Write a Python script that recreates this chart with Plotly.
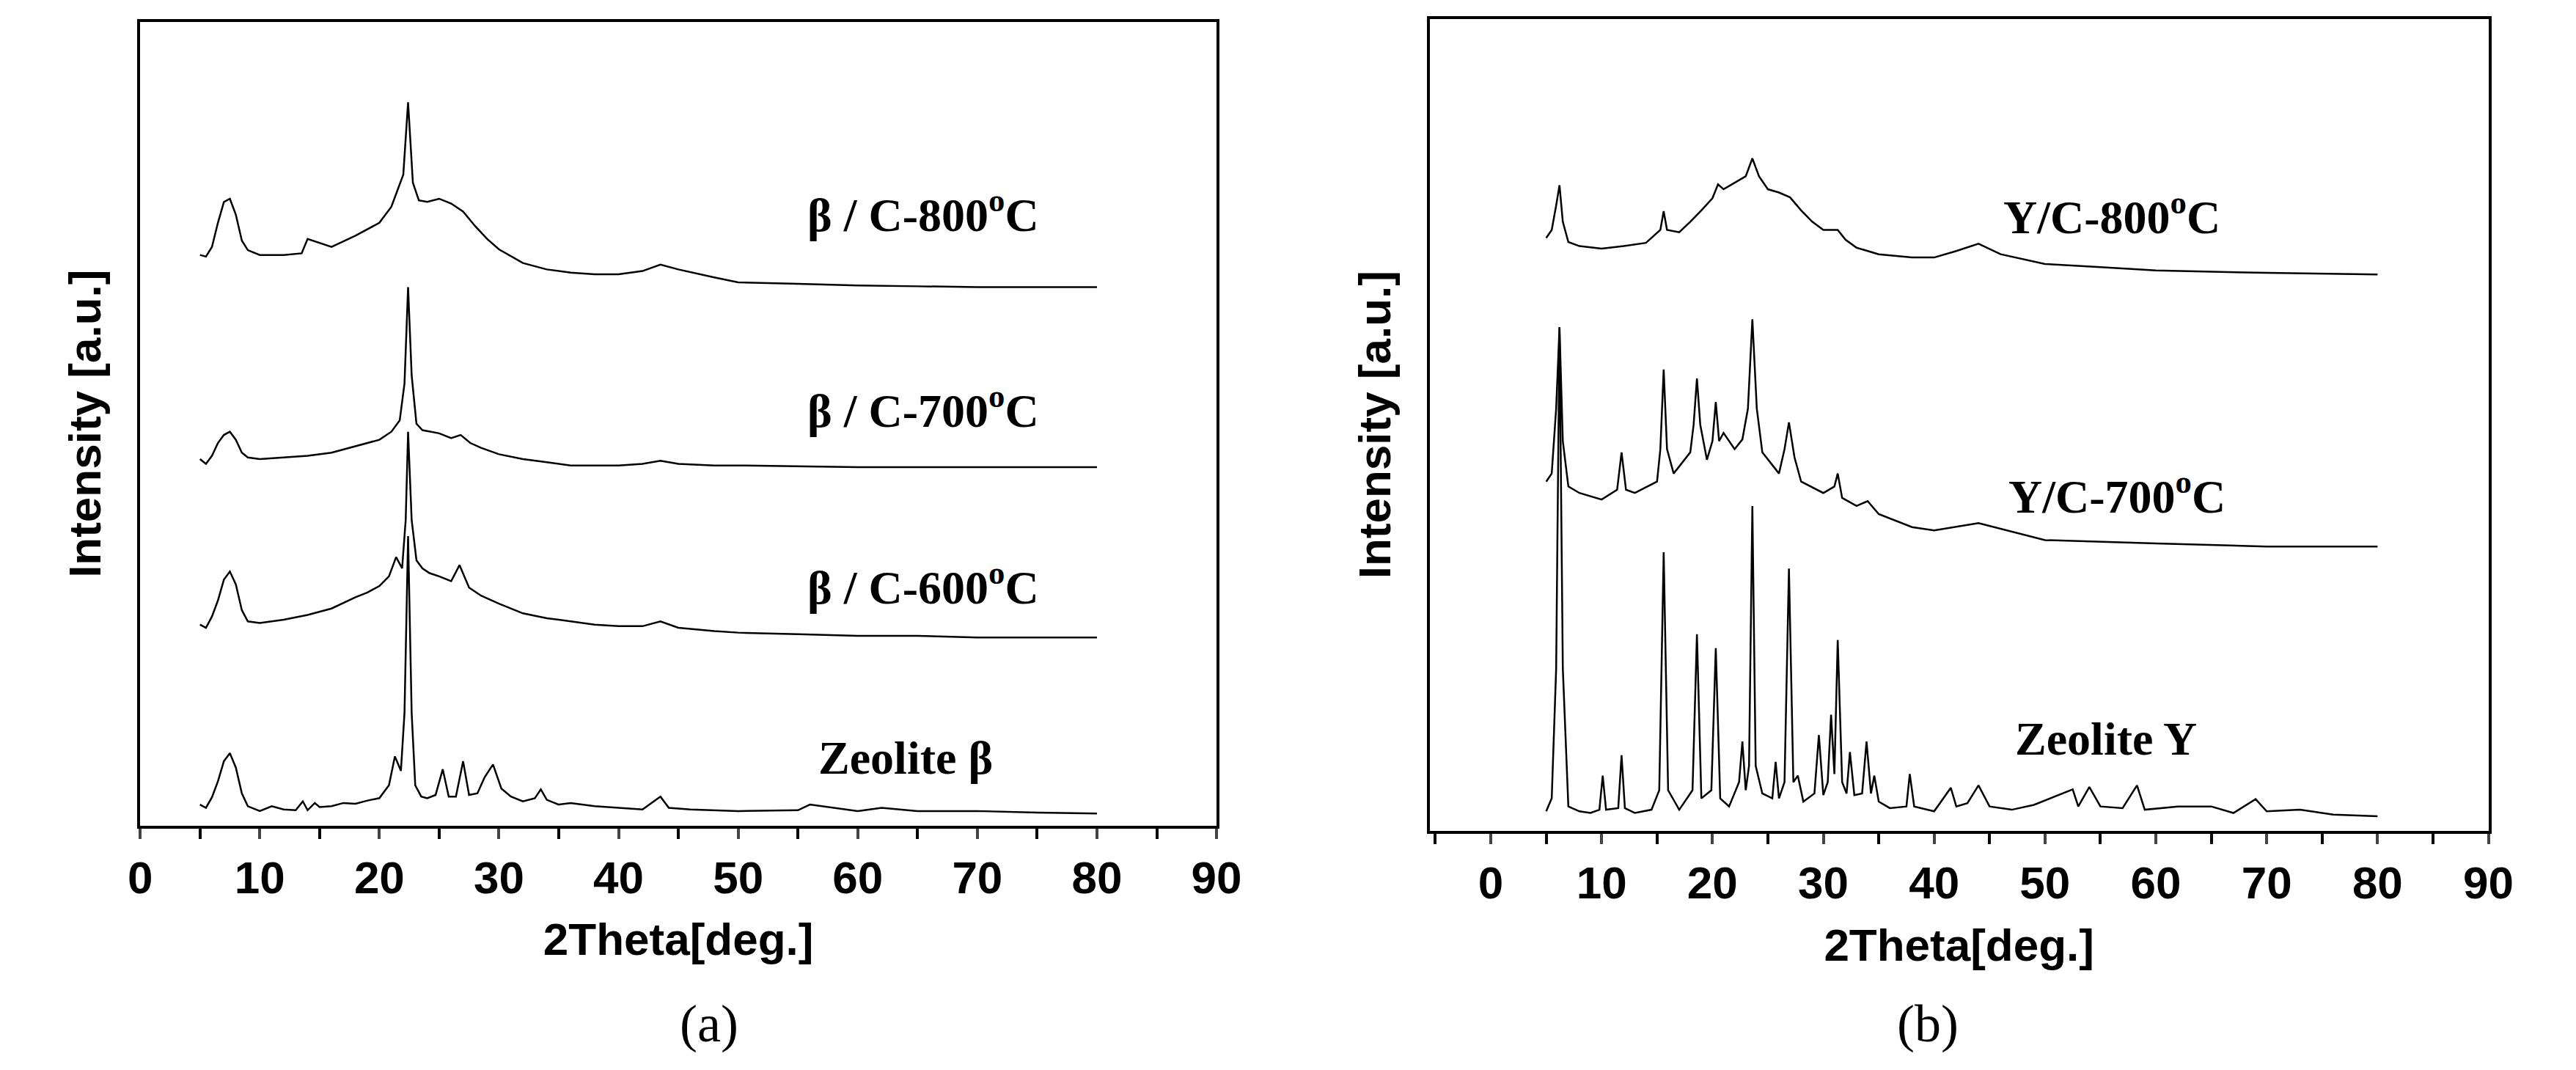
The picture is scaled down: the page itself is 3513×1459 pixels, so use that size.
import plotly.graph_objects as go

# ── Panel (a): zeolite beta series (2theta, intensity a.u.) ──────────────────
beta_x = [5, 5.5, 6, 6.5, 7, 7.5, 8, 8.5, 9, 10, 11, 12, 13, 13.6, 14, 14.6, 15, 16, 17, 18, 19, 20, 20.8,
          21.3, 21.8, 22.1, 22.4, 22.7, 23, 23.5, 24, 24.7, 25.3, 25.8, 26.4, 27, 27.5, 28.2, 28.8, 29.5,
          30.2, 31, 32, 33, 33.5, 34, 35, 36, 38, 40, 42, 43.5, 44.2, 46, 50, 55, 56, 60, 62, 65, 70, 75, 80]
beta_y = [2.6, 2.2, 3.5, 5.5, 8.0, 9.0, 7.2, 4.0, 2.4, 1.8, 2.4, 2.0, 1.9, 3.0, 1.9, 2.8, 2.3, 2.4, 2.8, 2.7, 3.1, 3.4, 5.0,
          8.6, 6.8, 14.0, 36.0, 14.0, 5.0, 3.6, 3.4, 3.8, 7.0, 3.6, 3.6, 8.0, 3.8, 4.0, 6.0, 7.6,
          4.6, 3.6, 3.0, 3.4, 4.5, 3.2, 2.6, 2.8, 2.4, 2.2, 2.0, 3.6, 2.2, 2.0, 1.8, 1.9, 2.6, 1.8, 2.2, 1.8, 1.8, 1.6, 1.5]

c600_x = [5, 5.5, 6, 6.5, 7, 7.5, 8, 8.5, 9, 10, 12, 14, 16, 18, 19, 20, 20.8, 21.4, 21.9, 22.2, 22.4, 22.7,
          23.1, 23.6, 24.2, 25, 26, 26.7, 27.5, 28.5, 30, 32, 34, 36, 38, 40, 42, 43.5, 45, 48, 50, 55, 60, 65, 70, 75, 80]
c600_y = [25.0, 24.6, 26.0, 28.0, 30.6, 31.6, 30.0, 26.8, 25.4, 25.2, 25.6, 26.2, 27.0, 28.4, 29.0, 29.8, 31.0, 33.4, 32.0, 38.0, 49.0, 38.0,
          33.0, 32.0, 31.4, 31.0, 30.4, 32.4, 29.6, 28.6, 27.6, 26.4, 25.8, 25.4, 25.0, 24.8, 24.8, 25.4, 24.6, 24.2, 24.0, 23.8, 23.6, 23.6, 23.4, 23.4, 23.4]

c700_x = [5, 5.5, 6, 6.5, 7, 7.5, 8, 8.5, 9, 10, 12, 14, 16, 18, 19, 20, 21, 21.7, 22.1, 22.4, 22.7, 23.1,
          23.6, 24.2, 25, 26, 26.8, 27.6, 28.5, 30, 32, 34, 36, 38, 40, 42, 43.5, 45, 48, 50, 55, 60, 65, 70, 75, 80]
c700_y = [45.6, 45.0, 46.0, 47.6, 48.6, 49.0, 48.0, 46.4, 45.8, 45.6, 45.8, 46.0, 46.4, 47.2, 47.6, 48.0, 49.0, 50.4, 55.0, 67.0, 56.0, 50.0,
          49.2, 49.0, 48.8, 48.2, 48.6, 47.6, 47.0, 46.2, 45.6, 45.2, 44.8, 44.8, 44.8, 45.0, 45.4, 45.0, 44.8, 44.8, 44.7, 44.6, 44.6, 44.6, 44.6, 44.6]

c800_x = [5, 5.5, 6, 6.5, 7, 7.5, 8, 8.5, 9, 10, 12, 13.5, 14, 16, 18, 19, 20, 21, 21.5, 22, 22.4, 22.8,
          23.3, 24, 25, 26, 27, 28, 29, 30, 32, 34, 36, 38, 40, 42, 43.5, 45, 48, 50, 55, 60, 65, 70, 75, 80]
c800_y = [71.0, 70.8, 72.0, 75.0, 77.6, 78.0, 76.0, 72.8, 71.6, 71.0, 71.0, 71.2, 73.0, 72.0, 73.4, 74.2, 75.0, 77.0, 79.0, 81.0, 90.0, 80.0,
          77.8, 77.6, 78.0, 77.4, 76.4, 74.6, 73.0, 71.7, 70.0, 69.2, 68.8, 68.6, 68.6, 69.0, 69.8, 69.2, 68.2, 67.6, 67.4, 67.2, 67.1, 67.0, 67.0, 67.0]

# ── Panel (b): zeolite Y series ──────────────────────────────────────────────
zy_x = [5, 5.5, 5.9, 6.2, 6.5, 7, 8, 9, 9.8, 10.1, 10.4, 11.5, 11.8, 12.1, 13, 14.5, 15.2, 15.6, 16, 17, 18.2, 18.6, 19,
        19.9, 20.3, 20.7, 21.5, 22.4, 22.7, 23, 23.3, 23.6, 23.9, 24.5, 25.4, 25.7, 26, 26.5, 26.9, 27.3, 27.7, 28.2,
        29.2, 29.6, 30, 30.4, 30.7, 31, 31.3, 31.7, 32.1, 32.4, 32.8, 33.5, 33.9, 34.3, 34.6, 35, 36, 37.5, 37.8, 38.2,
        40, 41.5, 42, 43, 44, 45, 47, 49, 52.5, 53, 54, 55, 57, 58.3, 59, 62, 65, 67, 69, 70, 73, 76, 80]
zy_y = [2.4, 4.0, 20.0, 62.0, 20.0, 3.0, 2.4, 2.2, 2.6, 6.8, 2.6, 2.8, 9.3, 2.8, 2.2, 2.6, 5.0, 34.3, 5.0, 2.6, 5.0, 24.2, 4.0,
        5.0, 22.5, 4.0, 3.0, 6.0, 11.0, 5.0, 8.0, 40.0, 8.0, 4.6, 4.0, 8.5, 4.0, 6.0, 32.3, 6.0, 6.8, 3.6,
        4.6, 11.8, 4.4, 6.0, 14.3, 7.0, 23.5, 6.0, 4.6, 9.7, 4.4, 4.6, 11.0, 4.6, 6.8, 3.6, 2.8, 3.0, 7.0, 3.0,
        2.4, 5.3, 3.0, 3.4, 5.6, 3.0, 2.6, 3.2, 5.1, 3.0, 5.4, 3.0, 2.8, 5.6, 2.6, 3.0, 3.0, 2.2, 3.9, 2.4, 2.6, 2.0, 1.8]

yc700_x = [5, 5.5, 5.9, 6.2, 6.5, 7, 8, 10, 11.4, 11.8, 12.2, 13, 15, 15.3, 15.6, 15.9, 16.5, 18, 18.3, 18.6, 18.9, 19.5,
           20, 20.3, 20.6, 21, 22, 22.7, 23.2, 23.6, 24, 24.5, 26, 26.5, 26.9, 27.4, 28, 30, 31, 31.3, 31.7, 33, 34, 35,
           38, 40, 44, 50, 60, 70, 80]
yc700_y = [43.0, 44.0, 52.0, 62.0, 48.0, 42.4, 41.6, 40.8, 42.0, 46.6, 42.0, 41.6, 43.0, 47.0, 56.8, 47.0, 44.0, 46.6, 50.0, 55.7, 50.0, 45.7,
           48.0, 52.8, 48.0, 49.0, 47.0, 48.2, 52.0, 63.0, 52.0, 46.6, 44.0, 47.0, 50.3, 46.0, 43.0, 41.6, 42.4, 44.0, 41.0, 40.0, 40.6, 39.0,
           37.4, 37.0, 37.9, 35.8, 35.4, 35.0, 35.0]

yc800_x = [5, 5.5, 5.9, 6.2, 6.5, 7, 8, 10, 12, 14, 15.3, 15.6, 15.9, 17, 18, 19, 20, 20.5, 21, 22, 23, 23.6, 24.2,
           25, 26, 27, 28, 29, 30, 31.3, 32, 33, 35, 38, 40, 42, 44, 46, 50, 55, 60, 70, 80]
yc800_y = [73.0, 74.0, 77.0, 79.5, 75.0, 72.5, 72.0, 71.7, 72.0, 72.4, 74.0, 76.3, 74.0, 73.7, 75.0, 76.4, 77.9, 79.6, 79.0, 79.8, 80.6, 82.8, 80.6,
           79.0, 78.6, 78.0, 76.4, 75.0, 74.0, 74.0, 72.8, 71.8, 71.0, 70.6, 70.6, 71.4, 72.3, 71.0, 69.8, 69.4, 69.0, 68.7, 68.5]

LINE = dict(color="black", width=2.5)
TICKFONT = dict(family="Liberation Sans", size=62, color="black", weight="bold")
TITLEFONT = dict(family="Liberation Sans", size=62, color="black", weight="bold")
LABELFONT = dict(family="Liberation Serif", size=64, color="black", weight="bold")

fig = go.Figure()
for xs, ys in [(beta_x, beta_y), (c600_x, c600_y), (c700_x, c700_y), (c800_x, c800_y)]:
    fig.add_trace(go.Scatter(x=xs, y=ys, mode="lines", line=LINE, xaxis="x", yaxis="y", showlegend=False))
for xs, ys in [(zy_x, zy_y), (yc700_x, yc700_y), (yc800_x, yc800_y)]:
    fig.add_trace(go.Scatter(x=xs, y=ys, mode="lines", line=LINE, xaxis="x2", yaxis="y2", showlegend=False))

xcommon = dict(showline=True, linewidth=4, linecolor="black", mirror=True, ticks="outside", ticklen=14, tickwidth=4,
               dtick=10, tickfont=TICKFONT, showgrid=False, zeroline=False,
               minor=dict(ticks="outside", ticklen=14, tickwidth=4, dtick=5, tickcolor="black"),
               title=dict(text="2Theta[deg.]", font=TITLEFONT, standoff=30))
ycommon = dict(showline=True, linewidth=4, linecolor="black", mirror=True, ticks="", showticklabels=False,
               showgrid=False, zeroline=False, range=[0, 100],
               title=dict(text="Intensity [a.u.]", font=TITLEFONT, standoff=30))

fig.update_layout(
    width=3513, height=1459, margin=dict(l=0, r=0, t=0, b=0),
    paper_bgcolor="white", plot_bgcolor="white",
    xaxis=dict(xcommon, domain=[0.048, 0.472], range=[0, 90], anchor="y"),
    yaxis=dict(ycommon, domain=[0.234, 0.985], anchor="x"),
    xaxis2=dict(xcommon, domain=[0.556, 0.973], range=[-5.5, 90], anchor="y2"),
    yaxis2=dict(ycommon, domain=[0.229, 0.988], anchor="x2"),
)

labels_a = [(65.5, 76.4, "β / C-800<sup>o</sup>C"), (65.5, 52, "β / C-700<sup>o</sup>C"),
            (65.5, 30, "β / C-600<sup>o</sup>C"), (64, 8.4, "Zeolite β")]
labels_b = [(56, 76, "Y/C-800<sup>o</sup>C"), (56.5, 41.6, "Y/C-700<sup>o</sup>C"), (55.5, 11.3, "Zeolite Y")]
for x, y, t in labels_a:
    fig.add_annotation(x=x, y=y, xref="x", yref="y", text=t, showarrow=False, font=LABELFONT)
for x, y, t in labels_b:
    fig.add_annotation(x=x, y=y, xref="x2", yref="y2", text=t, showarrow=False, font=LABELFONT)

fig.add_annotation(x=0.26, y=0.02, xref="paper", yref="paper", text="(a)", showarrow=False,
                   font=dict(family="Liberation Serif", size=72, color="black"))
fig.add_annotation(x=0.765, y=0.02, xref="paper", yref="paper", text="(b)", showarrow=False,
                   font=dict(family="Liberation Serif", size=72, color="black"))

fig.write_html("out.html")
